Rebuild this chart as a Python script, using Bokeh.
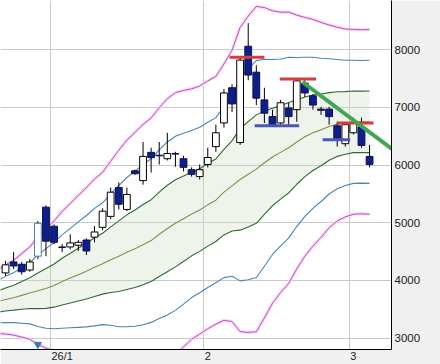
from bokeh.plotting import figure
from bokeh.models import FixedTicker, Range1d, ColumnDataSource
from bokeh.embed import file_html
from bokeh.resources import INLINE

# ---- candles (trading-day index 0..45) ----
opens  = [4130, 4320, 4280, 4180, 4420, 5270, 4940, 4580, 4580, 4610,
          4700, 4750, 4920, 5110, 5610, 5230, 5900, 5730, 6220, 6170,
          6110, 6200, 6110, 5920, 5800, 6010, 6320, 6730, 7340, 6390,
          8060, 7610, 7130, 6840, 6730, 6990, 6960, 7420, 7200, 6970,
          6970, 6680, 6370, 6560, 6660, 6150]
highs  = [4340, 4490, 4320, 4370, 5030, 5300, 4970, 4630, 4800, 4700,
          4730, 4940, 5250, 5610, 5700, 5610, 5920, 6400, 6300, 6400,
          6560, 6230, 6160, 5960, 6010, 6300, 6700, 7320, 7400, 7870,
          8460, 7730, 7340, 6960, 7130, 7080, 7510, 7470, 7230, 7010,
          7010, 6750, 6750, 6820, 6820, 6350]
lows   = [4080, 4200, 4100, 4150, 4370, 4420, 4630, 4490, 4540, 4510,
          4440, 4660, 4870, 5060, 5230, 5200, 5830, 5660, 5870, 6010,
          6080, 5970, 5890, 5800, 5750, 5960, 6230, 6650, 6920, 6350,
          7470, 7040, 6730, 6660, 6700, 6700, 6750, 7180, 6960, 6870,
          6700, 6320, 6320, 6530, 6300, 5960]
closes = [4270, 4250, 4150, 4320, 4990, 4680, 4660, 4570, 4650, 4660,
          4510, 4840, 5200, 5530, 5320, 5490, 5850, 6150, 6130, 6160,
          6200, 6190, 5960, 5840, 5920, 6130, 6560, 7250, 7060, 7820,
          7560, 7160, 6900, 6700, 7080, 6840, 7460, 7250, 7040, 6950,
          6840, 6440, 6700, 6730, 6340, 6010]
signal_day = 4

# ---- Bollinger bands (index -1..45): middle line and sigma ----
band_idx = list(range(-1, 46))
band_mid = [3630, 3670, 3700, 3740, 3780, 3820, 3860, 3910, 3980, 4040,
            4100, 4160, 4230, 4290, 4360, 4420, 4490, 4550, 4620, 4690,
            4800, 4900, 4990, 5070, 5150, 5220, 5310, 5390, 5530, 5640,
            5750, 5840, 5930, 6040, 6140, 6220, 6300, 6400, 6490, 6560,
            6610, 6670, 6710, 6730, 6750, 6750, 6750]
band_sd  = [183, 200, 216, 241, 267, 310, 345, 374, 405, 431,
            457, 483, 509, 528, 569, 612, 647, 672, 695, 709,
            731, 750, 755, 741, 724, 717, 716, 716, 741, 784,
            879, 914, 940, 897, 845, 810, 784, 733, 690, 655,
            621, 586, 560, 543, 534, 532, 534]

# ---- drawn levels ----
res_level = [7870, 7490, 6730]
res_from  = [27.7, 33.9, 41.0]
res_to    = [32.0, 38.4, 45.5]
sup_level = [6680, 6440]
sup_from  = [30.8, 39.2]
sup_to    = [36.3, 42.6]
trend_x = [36.7, 47.8]
trend_y = [7440, 6275]

# ---- axes ----
month_bounds = [5.5, 24.5, 42.5]
month_label_pos = [7, 25, 43]
month_labels = ["26/1", "2", "3"]
price_ticks = [3000, 4000, 5000, 6000, 7000, 8000]

p = figure(width=440, height=364, x_range=Range1d(-0.62, 47.71),
           y_range=Range1d(2802, 8853), y_axis_location="right",
           toolbar_location=None, output_backend="svg",
           min_border=0, min_border_right=49, min_border_bottom=13)
p.border_fill_color = "#f0f0f0"
p.background_fill_color = "white"
p.outline_line_color = None

# shading between +-1 sigma
up1 = [m + s for m, s in zip(band_mid, band_sd)]
dn1 = [m - s for m, s in zip(band_mid, band_sd)]
p.varea(x=band_idx, y1=dn1, y2=up1, fill_color="#c9dcc2", fill_alpha=0.32)

def band(k):
    return [m + k * s for m, s in zip(band_mid, band_sd)]

# +-3 sigma pink with halo
for k in (3, -3):
    p.line(band_idx, band(k), line_color="#f8d6f5", line_width=3)
    p.line(band_idx, band(k), line_color="#c94cc2", line_width=1)
for k in (2, -2):
    p.line(band_idx, band(k), line_color="#4a84b6", line_width=1.1)
for k in (1, -1):
    p.line(band_idx, band(k), line_color="#2f6a2f", line_width=1.1)
p.line(band_idx, band_mid, line_color="#8f8a4c", line_width=1.1)

# candles
idx = list(range(len(opens)))
bull = [c >= o for o, c in zip(opens, closes)]
src = ColumnDataSource(dict(
    x=idx, hi=highs, lo=lows,
    top=[max(o, c) for o, c in zip(opens, closes)],
    bot=[min(o, c) for o, c in zip(opens, closes)],
    fill=["white" if b else "#0e1f8c" for b in bull],
    line=[("#4a80b0" if i == signal_day else "black") if b else "#0a1050"
          for i, b in enumerate(bull)],
))
p.segment(x0="x", y0="lo", x1="x", y1="hi", source=src, line_color="black", line_width=1)
p.vbar(x="x", width=0.84, top="top", bottom="bot", source=src,
       fill_color="fill", line_color="line", line_width=1)

# support / resistance lines
for lv, a, b in zip(res_level, res_from, res_to):
    p.line([a, b], [lv, lv], line_color="#d63c3c", line_width=3)
for lv, a, b in zip(sup_level, sup_from, sup_to):
    p.line([a, b], [lv, lv], line_color="#4c55b8", line_width=3)
p.line(trend_x, trend_y, line_color="#3fa752", line_width=4)

# signal marker
p.scatter([signal_day], [2890], marker="inverted_triangle", size=7,
          fill_color="#3a78b0", line_color="#3a78b0")

# grids
p.xgrid.ticker = FixedTicker(ticks=month_bounds)
p.ygrid.ticker = FixedTicker(ticks=price_ticks)
for g in (p.xgrid, p.ygrid):
    g.grid_line_color = "#cacaca"
    g.grid_line_width = 1

# axes
p.xaxis.ticker = FixedTicker(ticks=month_label_pos)
p.xaxis.major_label_overrides = {k: v for k, v in zip(month_label_pos, month_labels)}
p.yaxis.ticker = FixedTicker(ticks=price_ticks)
for ax in (p.xaxis, p.yaxis):
    ax.axis_line_color = "black"
    ax.axis_line_width = 1
    ax.major_tick_line_color = None
    ax.minor_tick_line_color = None
    ax.major_tick_out = 0
    ax.major_tick_in = 0
    ax.minor_tick_out = 0
    ax.minor_tick_in = 0
    ax.major_label_text_font = "Liberation Sans"
    ax.major_label_text_color = "#1a1a1a"
p.yaxis.major_label_text_font_size = "11.5px"
p.yaxis.major_label_standoff = 3
p.xaxis.major_label_text_font_size = "11px"
p.xaxis.major_label_standoff = 0

open("out.html", "w").write(file_html(p, INLINE))
